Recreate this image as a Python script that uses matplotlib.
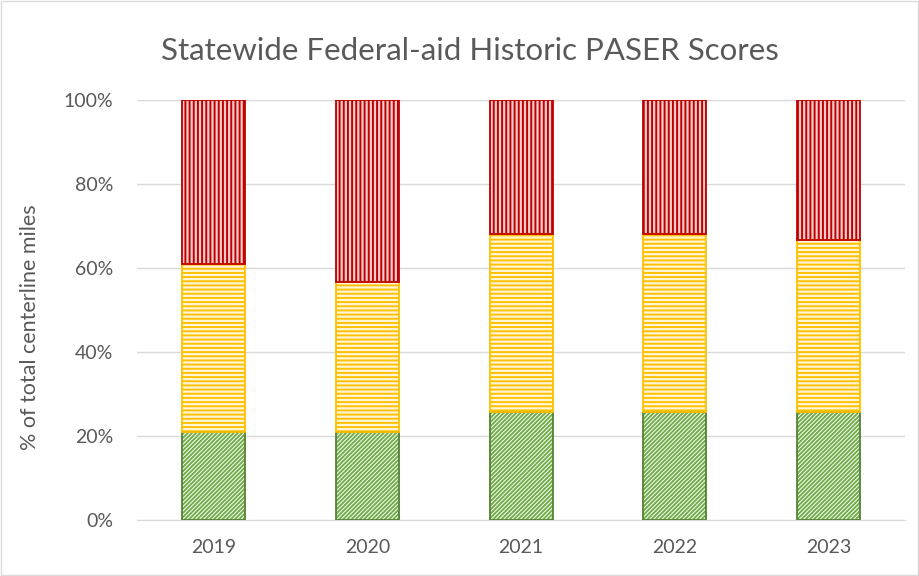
import matplotlib.pyplot as plt
from matplotlib.patches import Rectangle
import numpy as np

# PASER shares of total centerline miles (fractions)
years = ['2019', '2020', '2021', '2022', '2023']
good = [0.21, 0.21, 0.257, 0.257, 0.257]
fair = [0.40, 0.357, 0.424, 0.424, 0.410]
poor = [0.39, 0.433, 0.319, 0.319, 0.333]

plt.rcParams['font.family'] = ['Lato', 'DejaVu Sans']
plt.rcParams['hatch.linewidth'] = 1.4

fig = plt.figure(figsize=(9.2, 5.76), dpi=100)
ax = fig.add_axes([0.149, 0.0972, 0.835, 0.7292])

x = np.arange(len(years))
w = 0.41
bottom2 = np.array(good) + np.array(fair)

# hatched fills, then outlines on top
ax.bar(x, good, w, color='white', edgecolor='#70AD47', hatch='////////', linewidth=0, zorder=2)
ax.bar(x, fair, w, bottom=good, color='#FFF6DA', edgecolor='#FFC000', hatch='----', linewidth=0, zorder=2)
ax.bar(x, poor, w, bottom=bottom2, color='#F4CCCC', edgecolor='#C00000', hatch='||||', linewidth=0, zorder=2)
ax.bar(x, good, w, fill=False, edgecolor='#548235', linewidth=1.3, zorder=3)
ax.bar(x, fair, w, bottom=good, fill=False, edgecolor='#FFC000', linewidth=1.3, zorder=3)
ax.bar(x, poor, w, bottom=bottom2, fill=False, edgecolor='#C00000', linewidth=1.3, zorder=3)

ax.set_xlim(-0.5, len(years) - 0.5)
ax.set_ylim(0, 1)
ax.set_yticks(np.arange(0, 1.01, 0.2))
ax.set_yticklabels([f'{int(round(v * 100))}%' for v in np.arange(0, 1.01, 0.2)])
ax.set_xticks(x)
ax.set_xticklabels(years)
ax.grid(axis='y', color='#D9D9D9', linewidth=1, zorder=0)
ax.set_axisbelow(True)
for s in ['top', 'right', 'left']:
    ax.spines[s].set_visible(False)
ax.spines['bottom'].set_color('#D9D9D9')
ax.tick_params(length=0, labelsize=14, colors='#595959', pad=14)
ax.tick_params(axis='y', pad=17)

ax.set_ylabel('% of total centerline miles', fontsize=15.5, color='#595959')
ax.yaxis.set_label_coords(-0.126, 0.46)
fig.text(0.511, 0.912, 'Statewide Federal-aid Historic PASER Scores', ha='center', va='center',
         fontsize=22.5, color='#595959')

# light border around the chart area
fig.patches.append(Rectangle((0.001, 0.001), 0.997, 0.997, transform=fig.transFigure,
                             fill=False, edgecolor='#D9D9D9', linewidth=1))

fig.savefig('out.png', dpi=100)
